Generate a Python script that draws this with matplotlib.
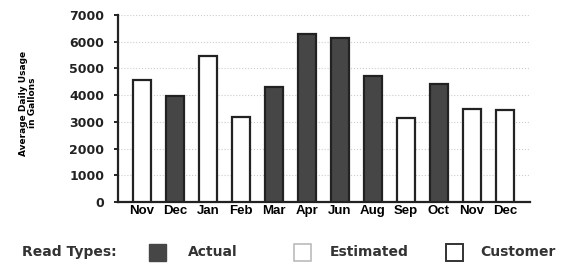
import matplotlib
matplotlib.use("Agg")
import matplotlib.pyplot as plt
from matplotlib.patches import Rectangle

# --- data --------------------------------------------------------------------
months = ["Nov", "Dec", "Jan", "Feb", "Mar", "Apr", "Jun", "Aug", "Sep", "Oct", "Nov", "Dec"]
usage = [4550, 3950, 5450, 3200, 4300, 6300, 6150, 4700, 3150, 4400, 3500, 3450]
read_type = ["Customer", "Actual", "Customer", "Customer", "Actual", "Actual",
             "Actual", "Actual", "Customer", "Actual", "Customer", "Customer"]
yticks = [0, 1000, 2000, 3000, 4000, 5000, 6000, 7000]

C_DARK = "#464646"
C_EDGE = "#222222"

fig = plt.figure(figsize=(5.71, 2.64), dpi=100)
fig.patch.set_facecolor("white")
ax = fig.add_axes([118 / 571, 1 - 202 / 264, 412 / 571, 187 / 264])

xs = list(range(len(months)))
faces = [C_DARK if t == "Actual" else "white" for t in read_type]
ax.bar(xs, usage, width=0.55, color=faces, edgecolor=C_EDGE, linewidth=1.6, zorder=3)

ax.set_xlim(-0.73, 11.76)
ax.set_ylim(0, 7000)
ax.set_yticks(yticks)
ax.set_yticklabels([str(v) for v in yticks], fontsize=9, fontweight="bold", color="#222222")
ax.set_xticks(xs)
ax.set_xticklabels(months, fontsize=9.5, fontweight="bold", family="Liberation Sans")
ax.tick_params(axis="x", length=0, pad=2)
ax.tick_params(axis="y", length=3, width=1.2, direction="out", pad=7)

for v in yticks[1:]:
    ax.axhline(v, color="#cccccc", ls=":", lw=0.8, zorder=1)

for s in ["top", "right"]:
    ax.spines[s].set_visible(False)
for s in ["left", "bottom"]:
    ax.spines[s].set_linewidth(1.6)
    ax.spines[s].set_color(C_EDGE)

fig.text(28 / 571, 1 - 103 / 264, "Average Daily Usage\nin Gallons", rotation=90,
         ha="center", va="center", fontsize=6.5, fontweight="bold", linespacing=1.1)

# --- read-type key -----------------------------------------------------------
y_key = 1 - 252 / 264
key_font = dict(fontsize=10, fontweight="bold", va="center", color="#333333")
fig.text(22 / 571, y_key, "Read Types:", **key_font)
sq_w, sq_h = 17 / 571, 17 / 264
fig.add_artist(Rectangle((149 / 571, y_key - sq_h / 2), sq_w, sq_h,
                         facecolor=C_DARK, edgecolor=C_DARK, lw=1, transform=fig.transFigure))
fig.text(188 / 571, y_key, "Actual", **key_font)
fig.add_artist(Rectangle((294 / 571, y_key - sq_h / 2), sq_w, sq_h,
                         facecolor="white", edgecolor="#bbbbbb", lw=1.2, transform=fig.transFigure))
fig.text(330 / 571, y_key, "Estimated", **key_font)
fig.add_artist(Rectangle((446 / 571, y_key - sq_h / 2), sq_w, sq_h,
                         facecolor="white", edgecolor="#333333", lw=1.4, transform=fig.transFigure))
fig.text(480 / 571, y_key, "Customer", **key_font)

fig.savefig("out.png", dpi=100)
